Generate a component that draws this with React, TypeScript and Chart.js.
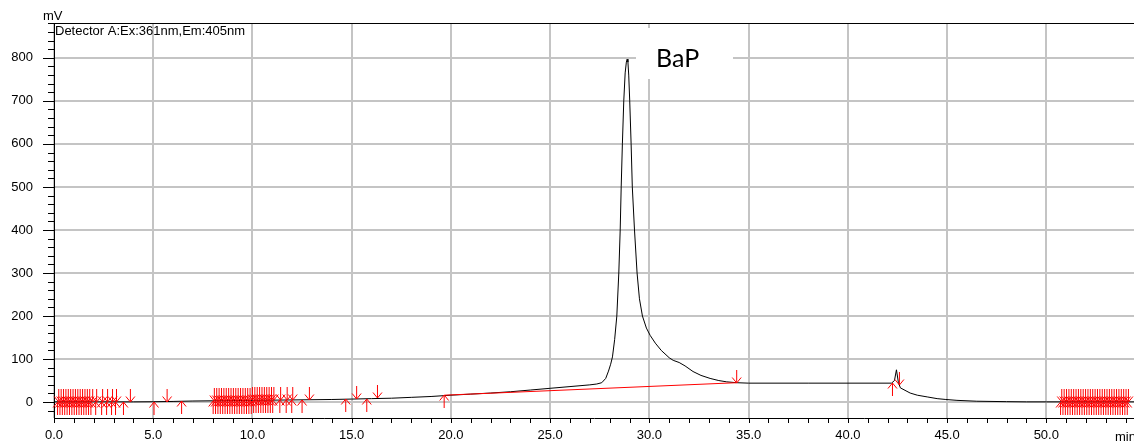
import React, { useEffect, useRef } from "react";
import { Chart, registerables } from "chart.js";
Chart.register(...registerables);

// Chromatogram trace (min, mV)
const traceTimes = [
  0, 2, 4, 5, 6, 7, 8, 10, 12, 14, 15, 16, 17, 18, 19, 20, 21, 22, 23, 24, 25, 26, 27, 27.35, 27.6, 27.8,
  27.94, 28.05, 28.14, 28.25, 28.36, 28.46, 28.53, 28.58, 28.64, 28.71, 28.78, 28.84, 28.88, 28.92, 28.96,
  29.01, 29.08, 29.14, 29.25, 29.38, 29.5, 29.65, 29.85, 30.04, 30.3, 30.6, 31.0, 31.2, 31.5, 31.8, 32.2,
  32.6, 33.06, 33.5, 33.9, 34.4, 35.0, 38.0, 42.2, 42.35, 42.45, 42.55, 42.65, 43.14, 43.5, 44.0, 44.5,
  44.94, 45.5, 46.5, 48.0, 49.0, 50.0, 54.42,
];
const traceValues = [
  0.5, 0.5, 0.5, 0.8, 1.5, 2.5, 3, 4, 5, 6, 7, 8, 9, 11, 13, 16, 18.5, 21, 24, 28, 32, 36, 40, 42, 45, 55,
  72, 88, 105, 145, 200, 300, 400, 500, 600, 700, 765, 790, 797, 790, 760,
  700, 600, 500, 400, 300, 240, 200, 172, 155, 137, 120, 103, 97, 92, 84, 71,
  62, 55, 50, 47, 45, 44, 44, 44, 50, 75, 45, 33, 21, 16, 12, 8,
  6, 4, 2, 1, 0.5, 0.5, 0.5,
];

// Integration baseline (red)
const baselineTimes = [19.66, 34.4];
const baselineValues = [16, 45];

// Peak start markers (arrow pointing up, drawn below the trace): [time, mV]
const upArrows: [number, number][] = [
  [0.18, 0.5], [0.3, 0.5], [0.42, 0.5], [0.54, 0.5], [0.66, 0.5], [0.78, 0.5], [0.9, 0.5], [1.02, 0.5],
  [1.14, 0.5], [1.26, 0.5], [1.38, 0.5], [1.5, 0.5], [1.62, 0.5], [1.74, 0.5], [1.86, 0.5],
  [2.1, 0.5], [2.4, 0.5], [2.65, 0.5], [2.9, 0.5], [3.1, 0.5], [3.5, 0.5],
  [5.04, 0.8], [6.43, 1.8],
  [8.02, 3], [8.14, 3], [8.26, 3], [8.38, 3], [8.5, 3], [8.62, 3], [8.74, 3], [8.86, 3], [8.98, 3],
  [9.1, 3.5], [9.22, 3.5], [9.34, 3.5], [9.46, 3.5], [9.58, 3.5], [9.7, 3.5], [9.82, 3.5], [9.94, 3.5],
  [10.06, 4], [10.18, 4], [10.3, 4], [10.42, 4], [10.54, 4], [10.66, 4], [10.78, 4], [10.9, 4], [11.02, 4.5],
  [11.38, 4.5], [11.7, 4.5], [11.98, 5],
  [12.5, 5], [14.7, 6.5], [15.76, 7.5], [19.66, 16], [42.25, 44],
  [50.72, 0.5], [50.84, 0.5], [50.96, 0.5], [51.08, 0.5], [51.2, 0.5], [51.32, 0.5], [51.44, 0.5],
  [51.56, 0.5], [51.68, 0.5], [51.8, 0.5], [51.92, 0.5], [52.04, 0.5], [52.16, 0.5], [52.28, 0.5],
  [52.4, 0.5], [52.52, 0.5], [52.64, 0.5], [52.76, 0.5], [52.88, 0.5], [53.0, 0.5], [53.12, 0.5],
  [53.24, 0.5], [53.36, 0.5], [53.48, 0.5], [53.6, 0.5], [53.72, 0.5], [53.84, 0.5], [53.96, 0.5],
  [54.08, 0.5],
];
// Peak end markers (arrow pointing down, drawn above the trace): [time, mV]
const downArrows: [number, number][] = [
  [0.24, 0.5], [0.36, 0.5], [0.48, 0.5], [0.6, 0.5], [0.72, 0.5], [0.84, 0.5], [0.96, 0.5], [1.08, 0.5],
  [1.2, 0.5], [1.32, 0.5], [1.44, 0.5], [1.56, 0.5], [1.68, 0.5], [1.8, 0.5], [1.95, 0.5],
  [2.15, 0.5], [2.45, 0.5], [2.7, 0.5], [2.95, 0.5], [3.15, 0.5], [3.85, 0.5],
  [5.7, 1.2],
  [8.08, 3], [8.2, 3], [8.32, 3], [8.44, 3], [8.56, 3], [8.68, 3], [8.8, 3], [8.92, 3], [9.04, 3],
  [9.16, 3.5], [9.28, 3.5], [9.4, 3.5], [9.52, 3.5], [9.64, 3.5], [9.76, 3.5], [9.88, 3.5], [10.0, 4],
  [10.12, 4], [10.24, 4], [10.36, 4], [10.48, 4], [10.6, 4], [10.72, 4], [10.84, 4], [10.96, 4], [11.08, 4.5],
  [11.42, 4.5], [11.75, 4.5], [12.03, 5],
  [12.87, 5.5], [15.25, 7], [16.3, 8.5], [34.4, 45], [42.6, 40],
  [50.78, 0.5], [50.9, 0.5], [51.02, 0.5], [51.14, 0.5], [51.26, 0.5], [51.38, 0.5], [51.5, 0.5],
  [51.62, 0.5], [51.74, 0.5], [51.86, 0.5], [51.98, 0.5], [52.1, 0.5], [52.22, 0.5], [52.34, 0.5],
  [52.46, 0.5], [52.58, 0.5], [52.7, 0.5], [52.82, 0.5], [52.94, 0.5], [53.06, 0.5], [53.18, 0.5],
  [53.3, 0.5], [53.42, 0.5], [53.54, 0.5], [53.66, 0.5], [53.78, 0.5], [53.9, 0.5], [54.02, 0.5],
  [54.14, 0.5],
];

const xMin = 0;
const xMax = 54.42;
const yMin = -37;
const yMax = 881;
const xMajorStep = 5;
const xMinorStep = 1;
const yMajorStep = 100;
const yMinorStep = 20;

const yAxisTitle = "mV";
const xAxisTitle = "min";
const detectorLabel = "Detector A:Ex:361nm,Em:405nm";
const peakLabel = "BaP";

const FONT = "'Liberation Sans', Arial, sans-serif";

const isMult = (v: number, step: number) => Math.abs(v - Math.round(v / step) * step) < 1e-6;

export default function App() {
  const ref = useRef<HTMLCanvasElement | null>(null);

  useEffect(() => {
    if (!ref.current) return;

    const decorPlugin = {
      id: "decor",
      beforeDatasetsDraw(chart: any) {
        const { ctx, scales } = chart;
        const x = scales.x;
        const y = scales.y;
        ctx.save();
        // white label box behind peak name
        const bl = Math.round(x.getPixelForValue(29.33));
        const br = Math.round(x.getPixelForValue(34.22));
        const bt = Math.round(y.getPixelForValue(870));
        const bb = Math.round(y.getPixelForValue(752));
        ctx.fillStyle = "#ffffff";
        ctx.fillRect(bl, bt, br - bl, bb - bt);
        ctx.fillStyle = "#000";
        ctx.font = "25px Lato, 'Open Sans', sans-serif";
        ctx.textBaseline = "alphabetic";
        ctx.textAlign = "left";
        ctx.fillText(peakLabel, bl + 20, y.getPixelForValue(778));
        ctx.restore();
      },
      afterDatasetsDraw(chart: any) {
        const { ctx } = chart;
        ctx.save();
        ctx.strokeStyle = "#ff0000";
        ctx.lineWidth = 1;
        [0, 1].forEach((di) => {
          const s = di === 0 ? 1 : -1;
          chart.getDatasetMeta(di).data.forEach((pt: any) => {
            const px = pt.x;
            const py = Math.round(pt.y);
            ctx.beginPath();
            ctx.moveTo(px, py);
            ctx.lineTo(px, py + s * 13);
            ctx.moveTo(px - 4.5, py + s * 5.5);
            ctx.lineTo(px, py);
            ctx.lineTo(px + 4.5, py + s * 5.5);
            ctx.stroke();
          });
        });
        ctx.restore();
      },
      afterDraw(chart: any) {
        const { ctx, chartArea, scales } = chart;
        const x = scales.x;
        const y = scales.y;
        ctx.save();
        ctx.strokeStyle = "#000";
        ctx.lineWidth = 1;
        ctx.beginPath();
        // top frame line
        ctx.moveTo(chartArea.left, Math.round(chartArea.top) + 0.5);
        ctx.lineTo(chartArea.right, Math.round(chartArea.top) + 0.5);
        // y ticks (major + minor)
        for (let v = Math.ceil(yMin / yMinorStep) * yMinorStep; v < yMax; v += yMinorStep) {
          const py = Math.round(y.getPixelForValue(v)) + 0.5;
          const len = isMult(v, yMajorStep) ? 11 : 6;
          ctx.moveTo(chartArea.left - len, py);
          ctx.lineTo(chartArea.left, py);
        }
        // x ticks
        for (let v = Math.ceil(xMin / xMinorStep) * xMinorStep; v <= xMax; v += xMinorStep) {
          const px = Math.round(x.getPixelForValue(v)) + 0.5;
          ctx.moveTo(px, chartArea.bottom);
          ctx.lineTo(px, chartArea.bottom + 5);
        }
        ctx.stroke();
        // texts
        ctx.fillStyle = "#000";
        ctx.font = `13px ${FONT}`;
        ctx.textAlign = "left";
        ctx.textBaseline = "alphabetic";
        ctx.fillText(yAxisTitle, chartArea.left - 11, chartArea.top - 3);
        ctx.fillText(detectorLabel, chartArea.left + 1, chartArea.top + 12);
        ctx.fillText(xAxisTitle, chartArea.right - 19, chartArea.bottom + 23);
        ctx.restore();
      },
    };

    const chart = new Chart(ref.current, {
      type: "scatter",
      data: {
        datasets: [
          {
            label: "up",
            data: upArrows.map(([t, v]) => ({ x: t, y: v })),
            pointRadius: 0,
            pointHoverRadius: 0,
            showLine: false,
            order: 1,
          },
          {
            label: "down",
            data: downArrows.map(([t, v]) => ({ x: t, y: v })),
            pointRadius: 0,
            pointHoverRadius: 0,
            showLine: false,
            order: 1,
          },
          {
            label: "baseline",
            data: baselineTimes.map((t, i) => ({ x: t, y: baselineValues[i] })),
            showLine: true,
            borderColor: "#ff0000",
            borderWidth: 1,
            pointRadius: 0,
            pointHoverRadius: 0,
            order: 2,
          },
          {
            label: "trace",
            data: traceTimes.map((t, i) => ({ x: t, y: traceValues[i] })),
            showLine: true,
            borderColor: "#000000",
            borderWidth: 1,
            pointRadius: 0,
            pointHoverRadius: 0,
            tension: 0,
            order: 3,
          },
        ],
      },
      options: {
        animation: false,
        responsive: false,
        devicePixelRatio: 1,
        events: [],
        layout: { autoPadding: false, padding: { top: 23, left: 0, right: 0, bottom: 0 } },
        plugins: { legend: { display: false }, tooltip: { enabled: false } },
        scales: {
          x: {
            type: "linear",
            min: xMin,
            max: xMax,
            afterFit: (s: any) => {
              s.height = 26;
            },
            border: { display: true, color: "#000", width: 1 },
            grid: {
              color: (c: any) => (c.tick && isMult(c.tick.value, xMajorStep) ? "#c4c4c4" : "rgba(0,0,0,0)"),
              lineWidth: 2,
              drawTicks: true,
              tickLength: 9.5,
              tickColor: "rgba(0,0,0,0)",
            },
            ticks: {
              stepSize: xMinorStep,
              includeBounds: false,
              autoSkip: false,
              maxRotation: 0,
              padding: 0,
              color: "#000",
              font: { family: FONT, size: 13 },
              callback: (v: any) => (isMult(Number(v), xMajorStep) ? Number(v).toFixed(1) : ""),
            },
          },
          y: {
            type: "linear",
            min: yMin,
            max: yMax,
            afterFit: (s: any) => {
              s.width = 54;
            },
            border: { display: true, color: "#000", width: 1 },
            grid: {
              color: (c: any) => (c.tick && isMult(c.tick.value, yMajorStep) ? "#c4c4c4" : "rgba(0,0,0,0)"),
              lineWidth: 2,
              drawTicks: true,
              tickLength: 18,
              tickColor: "rgba(0,0,0,0)",
            },
            ticks: {
              stepSize: yMinorStep,
              includeBounds: false,
              autoSkip: false,
              padding: 3,
              color: "#000",
              font: { family: FONT, size: 13 },
              callback: (v: any) => (isMult(Number(v), yMajorStep) && Number(v) >= 0 ? String(Number(v)) : ""),
            },
          },
        },
      },
      plugins: [decorPlugin],
    });
    return () => chart.destroy();
  }, []);

  return (
    <div style={{ position: "absolute", left: 0, top: 0, width: 1134, height: 444, background: "#fff" }}>
      <canvas ref={ref} width={1134} height={444} style={{ display: "block" }} />
    </div>
  );
}
